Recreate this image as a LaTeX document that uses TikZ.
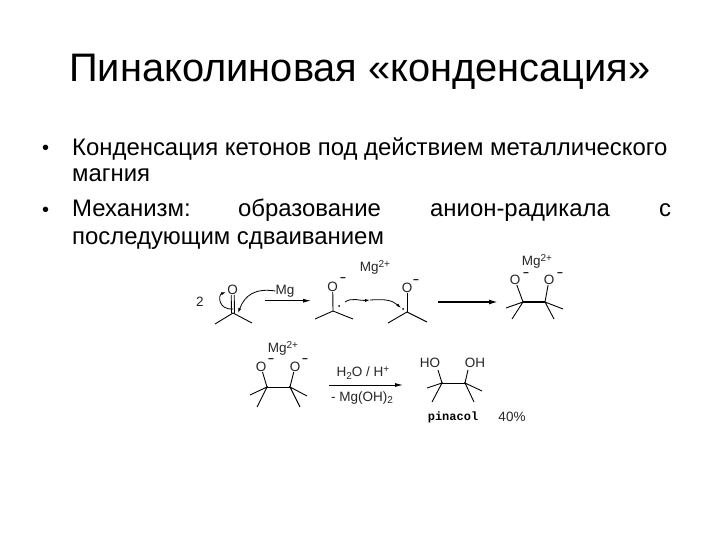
\documentclass[tikz,border=0pt]{standalone}
\usepackage{fontspec}
\setmainfont{Liberation Sans}
\setmonofont{Liberation Mono}
\usetikzlibrary{arrows.meta}
\tikzset{
  x=1pt,y=-1pt,
  bond/.style={draw=black,line width=0.9pt},
  boldbond/.style={draw=black,line width=1.6pt},
  rxn/.style={draw=black,line width=0.9pt,-{Latex[length=8pt,width=4pt]}},
  rxnbold/.style={draw=black,line width=1.5pt,-{Latex[length=9pt,width=5pt]}},
  curly/.style={draw=black,line width=0.8pt,-{Latex[length=5pt,width=3pt]}},
  titletext/.style={anchor=base,inner sep=0pt,font=\fontsize{39.8}{39.8}\selectfont},
  bodytext/.style={anchor=base west,inner sep=0pt,font=\fontsize{23.9}{23.9}\selectfont},
  bullettext/.style={anchor=base west,inner sep=0pt,font=\fontsize{20}{20}\selectfont},
  chem/.style={inner sep=0pt,font=\fontsize{13.5}{13.5}\selectfont,text=black!85},
  charge/.style={inner sep=0pt,font=\fontsize{10}{10}\selectfont\bfseries},
  radical/.style={circle,fill=black,inner sep=0pt,minimum size=2pt},
}
\newcommand{\sq}[1]{\raisebox{4pt}{\fontsize{10}{10}\selectfont #1}}
\newcommand{\sbs}[1]{\raisebox{-2.5pt}{\fontsize{10}{10}\selectfont #1}}
\begin{document}
\begin{tikzpicture}
\useasboundingbox[fill=white] (0,0) rectangle (720,540);
% Title
\node[titletext] (title) at (360,82) {Пинаколиновая «конденсация»};
% Bullets
\node[bullettext] (b1) at (42,155) {•};
\node[bodytext] (l1) at (72,155.5) {Конденсация кетонов под действием металлического};
\node[bodytext] (l2) at (72,182) {магния};
\node[bullettext] (b2) at (42,216) {•};
\node[bodytext] (l3a) at (72,216) {Механизм:};
\node[bodytext] (l3b) at (238,216) {образование};
\node[bodytext] (l3c) at (430,216) {анион-радикала};
\node[bodytext] (l3d) at (659,216) {с};
\node[bodytext] (l4) at (72,244) {последующим сдваиванием};

% Molecule 1
\node[chem] (two) at (200,302) {2};
\node[chem] (o1) at (232.7,290) {O};
\coordinate (c1) at (233,313);
\coordinate (m1a) at (215,324);
\coordinate (m1b) at (252,323);
\draw[bond] ([xshift=-1.5pt]o1.south) -- ([xshift=-1.5pt]c1);
\draw[bond] ([xshift=1.5pt]o1.south) -- ([xshift=1.5pt]c1);
\draw[bond] (m1a) -- (c1) -- (m1b);
\node[chem] (mg1) at (285,291) {Mg};
\draw[curly] (mg1.west) .. controls (255,288) and (245,295) .. (238,313);
\draw[curly] (233,309) .. controls (218,310) and (218,295) .. (226,292);
\coordinate (a1s) at (265,300.7);
\coordinate (a1e) at (311,300.7);
\draw[rxn] (a1s) -- (a1e);

% Radical anion 1
\node[chem] (o2) at (332.7,287) {O};
\node[charge] (o2m) at (343,280) {−};
\coordinate (c2) at (333,311);
\draw[bond] (o2) -- (c2);
\draw[bond] (315,319) -- (c2) -- (353,319);
\node[radical] (r2) at (339,306) {};
% Radical anion 2
\node[chem] (o3) at (407,288) {O};
\node[charge] (o3m) at (416,282) {−};
\coordinate (c3) at (407,312);
\draw[bond] (o3) -- (c3);
\draw[bond] (388,323) -- (c3) -- (427,322);
\node[radical] (r3) at (403,309) {};
\node[chem] (mgA) at (375,267) {Mg\sq{2+}};
\draw[curly] (345,302) .. controls (352,297) and (360,301) .. (370,300);
\draw[curly] (370,300) .. controls (385,299) and (392,300) .. (401,308);
% Arrow to product
\coordinate (a2s) at (438,302);
\coordinate (a2e) at (498,302);
\draw[rxnbold] (a2s) -- (a2e);

% Product top right
\node[chem] (mgB) at (537,261) {Mg\sq{2+}};
\node[chem] (o4) at (515,280) {O};
\node[charge] (o4m) at (526,275) {−};
\node[chem] (o5) at (549,280) {O};
\node[charge] (o5m) at (560,275) {−};
\coordinate (c4) at (523,302);
\coordinate (c5) at (545,302);
\draw[boldbond] (c4) -- (c5);
\draw[bond] (o4) -- (c4);
\draw[bond] (o5) -- (c5);
\draw[bond] (506,308) -- (c4) -- (512,319);
\draw[bond] (563,309) -- (c5) -- (554,319);

% Product second row left
\node[chem] (mgC) at (283,348) {Mg\sq{2+}};
\node[chem] (o6) at (261,367) {O};
\node[charge] (o6m) at (271,361) {−};
\node[chem] (o7) at (295,367) {O};
\node[charge] (o7m) at (305,361) {−};
\coordinate (c6) at (267,387);
\coordinate (c7) at (290,387);
\draw[bond] (c6) -- (c7);
\draw[bond] (o6) -- (c6);
\draw[bond] (o7) -- (c7);
\draw[bond] (250,395) -- (c6) -- (257,407);
\draw[bond] (307,396) -- (c7) -- (300,407);

% Hydrolysis arrow
\coordinate (a3s) at (329,385);
\coordinate (a3e) at (403,385);
\draw[rxn] (a3s) -- (a3e);
\node[chem] (h2o) at (363,373) {H\sbs{2}O / H\sq{+}};
\node[chem] (mgoh) at (362,398) {- Mg(OH)\sbs{2}};

% Pinacol
\node[chem] (ho) at (430,363) {HO};
\node[chem] (oh) at (475,363) {OH};
\coordinate (c8) at (442,383);
\coordinate (c9) at (465,383);
\draw[bond] (c8) -- (c9);
\draw[bond] (438,370) -- (c8);
\draw[bond] (468,370) -- (c9);
\draw[bond] (427,388) -- (c8) -- (432,402);
\draw[bond] (482,391) -- (c9) -- (474,402);
\node[inner sep=0pt,font=\fontsize{12}{12}\selectfont\ttfamily\bfseries] (pin) at (453,417) {pinacol};
\node[chem] (yield) at (512,417) {40\%};
\end{tikzpicture}
\end{document}
